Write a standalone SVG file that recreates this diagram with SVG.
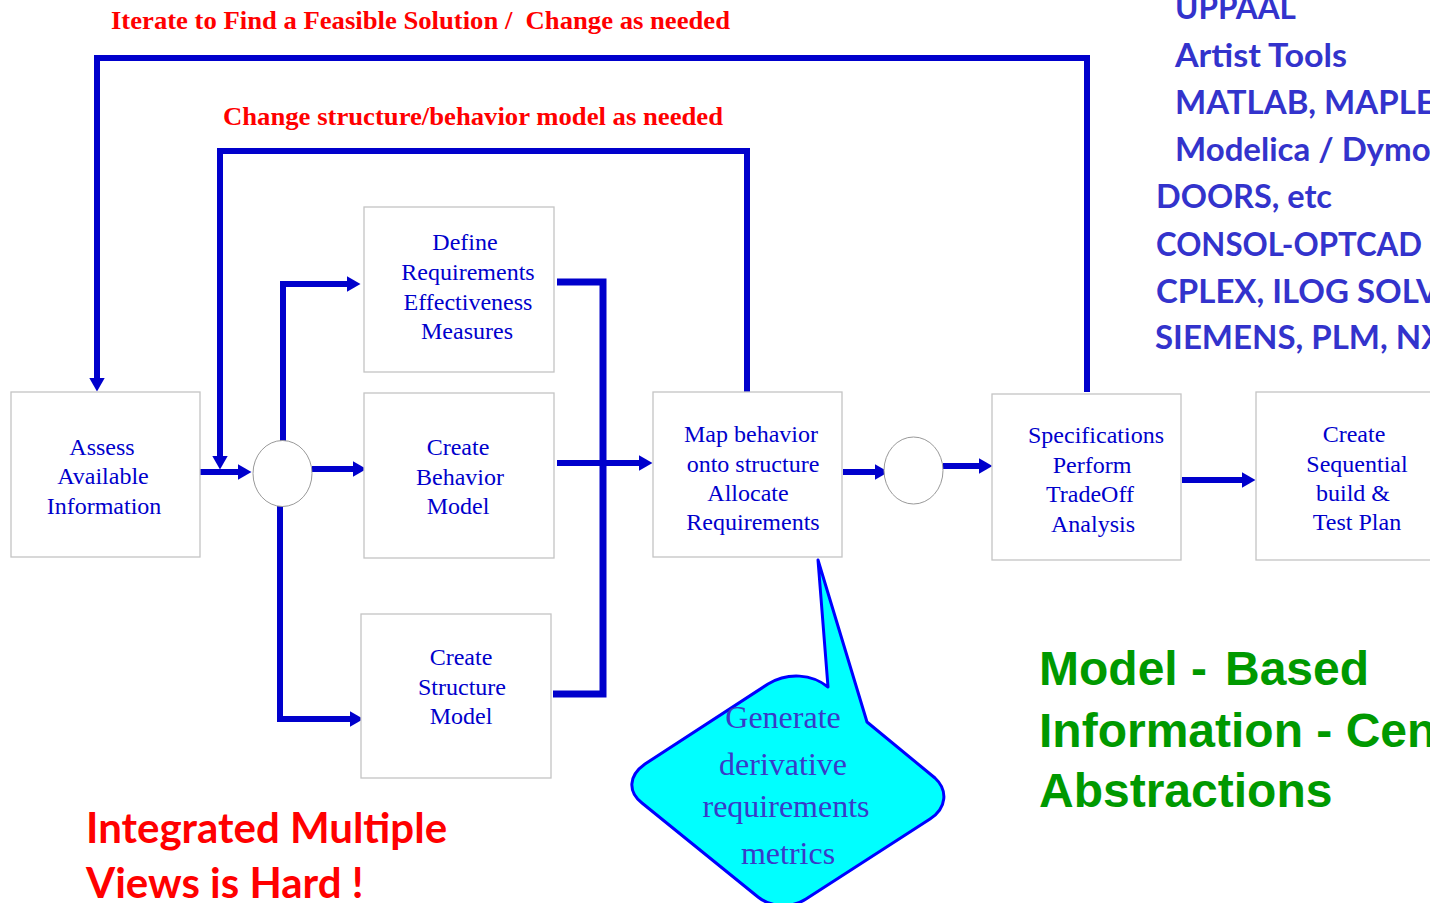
<svg xmlns="http://www.w3.org/2000/svg" width="1430" height="903" viewBox="0 0 1430 903">
<style>
.box{fill:#fff;stroke:#c4c4c4;stroke-width:1.3}
.circ{fill:#fff;stroke:#999;stroke-width:1}
.bt{font-family:"Liberation Serif","Times New Roman",serif;font-size:24px;fill:#0000cc;text-anchor:middle}
.conn{fill:none;stroke:#0000cc;stroke-width:6}
.title{font-family:"Liberation Serif","Times New Roman",serif;font-weight:bold;font-size:25px;fill:#ff0000;white-space:pre}
.tool{font-family:Lato,"Open Sans",sans-serif;font-weight:bold;font-size:33px;fill:#3333cc}
.green{font-family:"Liberation Sans",Arial,sans-serif;font-weight:bold;font-size:48px;fill:#009900}
.red{font-family:Lato,"Open Sans",sans-serif;font-weight:bold;font-size:42px;fill:#ff0000}
.call{font-family:"Liberation Serif","Times New Roman",serif;font-size:32px;fill:#3a3ac8;text-anchor:middle}
</style>
<defs>
<marker id="ah" markerUnits="userSpaceOnUse" markerWidth="15" markerHeight="18" viewBox="0 0 15 18" refX="0.5" refY="9" orient="auto">
<path d="M0,1 L14,9 L0,17 Z" fill="#0000cc"/>
</marker>
</defs>

<text class="title" x="111" y="29" textLength="619" lengthAdjust="spacingAndGlyphs">Iterate to Find a Feasible Solution /  Change as needed</text>
<text class="title" x="223" y="125" textLength="500" lengthAdjust="spacingAndGlyphs">Change structure/behavior model as needed</text>

<g id="connectors">
<path class="conn" d="M1087,392 V58 H97 V378" marker-end="url(#ah)"/>
<path class="conn" d="M747,392 V151 H220 V456" marker-end="url(#ah)"/>
<path class="conn" d="M200,472 H238" marker-end="url(#ah)"/>
<path class="conn" d="M283,441 V284 H347" marker-end="url(#ah)"/>
<path class="conn" d="M312,469 H353" marker-end="url(#ah)"/>
<path class="conn" d="M280,506 V719 H350" marker-end="url(#ah)"/>
<path class="conn" d="M557,282 H603 V694 H553" style="stroke-width:7"/>
<path class="conn" d="M557,463 H639" marker-end="url(#ah)"/>
<path class="conn" d="M843,472 H875" marker-end="url(#ah)"/>
<path class="conn" d="M943,466 H979" marker-end="url(#ah)"/>
<path class="conn" d="M1182,480 H1242" marker-end="url(#ah)"/>
</g>

<g id="assess">
<rect class="box" x="11" y="392" width="189" height="165"/>
<text class="bt" x="102" y="455">Assess</text>
<text class="bt" x="103" y="484">Available</text>
<text class="bt" x="104" y="514">Information</text>
</g>

<g id="junction1"><ellipse class="circ" cx="282.5" cy="473.5" rx="29.5" ry="33"/></g>

<g id="define">
<rect class="box" x="364" y="207" width="190" height="165"/>
<text class="bt" x="465" y="250">Define</text>
<text class="bt" x="468" y="280">Requirements</text>
<text class="bt" x="468" y="310">Effectiveness</text>
<text class="bt" x="467" y="339">Measures</text>
</g>

<g id="behavior">
<rect class="box" x="364" y="393" width="190" height="165"/>
<text class="bt" x="458" y="455">Create</text>
<text class="bt" x="460" y="485">Behavior</text>
<text class="bt" x="458" y="514">Model</text>
</g>

<g id="structure">
<rect class="box" x="361" y="614" width="190" height="164"/>
<text class="bt" x="461" y="665">Create</text>
<text class="bt" x="462" y="695">Structure</text>
<text class="bt" x="461" y="724">Model</text>
</g>

<g id="map">
<rect class="box" x="653" y="392" width="189" height="165"/>
<text class="bt" x="751" y="442">Map behavior</text>
<text class="bt" x="753" y="472">onto structure</text>
<text class="bt" x="748" y="501">Allocate</text>
<text class="bt" x="753" y="530">Requirements</text>
</g>

<g id="junction2"><ellipse class="circ" cx="913.5" cy="470.5" rx="29.5" ry="33.5"/></g>

<g id="specs">
<rect class="box" x="992" y="394" width="189" height="166"/>
<text class="bt" x="1096" y="443">Specifications</text>
<text class="bt" x="1092" y="473">Perform</text>
<text class="bt" x="1090" y="502">TradeOff</text>
<text class="bt" x="1093" y="532">Analysis</text>
</g>

<g id="testplan">
<rect class="box" x="1256" y="392" width="190" height="168"/>
<text class="bt" x="1354" y="442">Create</text>
<text class="bt" x="1357" y="472">Sequential</text>
<text class="bt" x="1353" y="501">build &amp;</text>
<text class="bt" x="1357" y="530">Test Plan</text>
</g>

<g id="callout">
<path d="M818,560 L828,687 C812,674 788,672 768,684 L645,764 C628,776 628,792 642,803 L758,897 C772,908 792,908 806,899 L930,819 C947,808 948,790 935,778 L867,722 Z" fill="#00ffff" stroke="#0000ff" stroke-width="3" stroke-linejoin="round"/>
<text class="call" x="783" y="728">Generate</text>
<text class="call" x="783" y="775">derivative</text>
<text class="call" x="786" y="817">requirements</text>
<text class="call" x="788" y="864">metrics</text>
</g>

<g id="tools">
<text class="tool" x="1175" y="19" textLength="121" lengthAdjust="spacingAndGlyphs">UPPAAL</text>
<text class="tool" x="1175" y="67" textLength="172" lengthAdjust="spacingAndGlyphs">Artist Tools</text>
<text class="tool" x="1175" y="114">MATLAB, MAPLE</text>
<text class="tool" x="1175" y="161">Modelica / Dymola</text>
<text class="tool" x="1156" y="208" textLength="176" lengthAdjust="spacingAndGlyphs">DOORS, etc</text>
<text class="tool" x="1156" y="256" textLength="266" lengthAdjust="spacingAndGlyphs">CONSOL-OPTCAD</text>
<text class="tool" x="1156" y="303">CPLEX, ILOG SOLVER</text>
<text class="tool" x="1155" y="349">SIEMENS, PLM, NX</text>
</g>

<g id="mbse">
<text class="green" x="1039" y="685">Model - <tspan x="1225">Based</tspan></text>
<text class="green" x="1039" y="747">Information - Centric</text>
<text class="green" x="1039" y="807">Abstractions</text>
</g>

<g id="hard">
<text class="red" x="86" y="843">Integrated Multiple</text>
<text class="red" x="86" y="898">Views is Hard !</text>
</g>
</svg>
